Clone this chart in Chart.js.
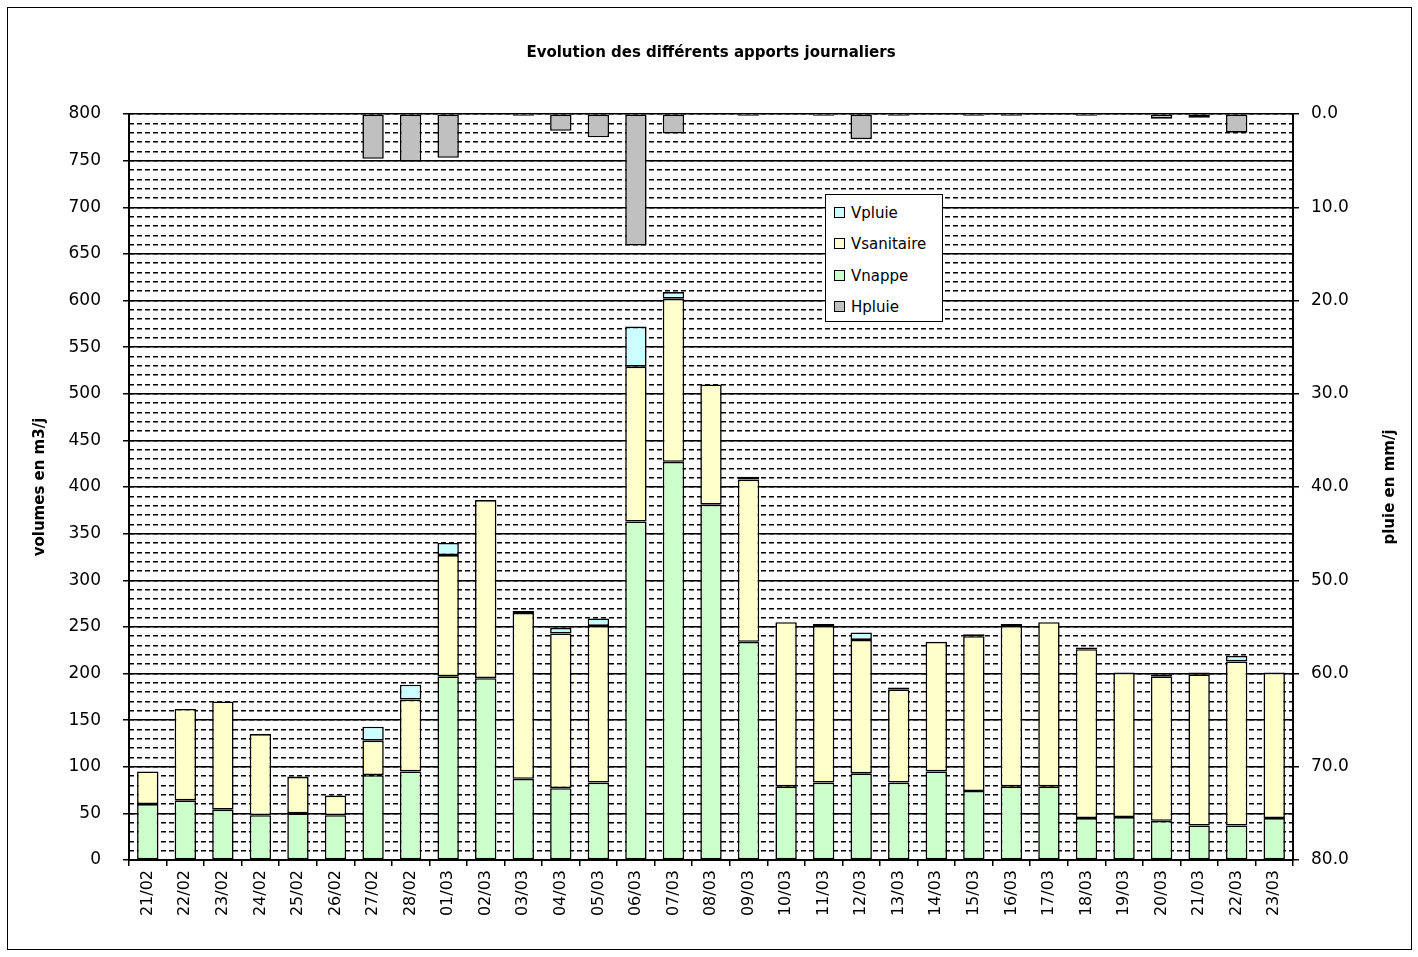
<!DOCTYPE html>
<html>
<head>
<meta charset="utf-8">
<script src="https://cdn.jsdelivr.net/npm/chart.js@4.4.1/dist/chart.umd.min.js"></script>
<style>
  body { margin: 0; background: #fff; }
  #wrap { position: relative; width: 1418px; height: 957px; }
  #frame { position: absolute; left: 7px; top: 7px; width: 1403px; height: 941px; border: 1px solid #000; pointer-events: none; }
  canvas { position: absolute; left: 0; top: 0; }
  #legend { position: absolute; left: 825px; top: 194px; width: 116px; height: 126px; border: 1px solid #000; background: #fff;
            font-family: 'DejaVu Sans', sans-serif; font-size: 15px; color: #000; }
  #legend .item { position: absolute; left: 8px; height: 18px; line-height: 18px; white-space: nowrap; }
  #legend .box { display: inline-block; width: 9px; height: 9px; border: 1px solid #000; margin-right: 6px; vertical-align: 0px; }
</style>
</head>
<body>
<div id="wrap">
  <canvas id="chart" width="1418" height="957"></canvas>
  <div id="frame"></div>
  <div id="legend"></div>
</div>
<script>
// categories
const dates = ["21/02","22/02","23/02","24/02","25/02","26/02","27/02","28/02",
  "01/03","02/03","03/03","04/03","05/03","06/03","07/03","08/03","09/03","10/03",
  "11/03","12/03","13/03","14/03","15/03","16/03","17/03","18/03","19/03","20/03",
  "21/03","22/03","23/03"];

// volumes m3/j
const vnappe = [60,64,54,48,50,48,91,95,197,195,87,77,83,363,427,381,234,79,83,93,83,95,74,79,79,45,46,42,37,37,45];
const vsanitaire = [35,98,116,87,39,21,37,77,130,191,178,166,168,166,175,129,174,176,168,143,100,139,166,172,176,181,155,155,162,176,156];
const vpluie = [0,0,0,0,0.5,0.5,15,16,13,0,2,6,8,43,7,0,3,0,2,8,2,0,2,2,0,2,0,2,2,6,0];

// pluie mm/j
const hpluie = [0,0,0,0,0,0,4.8,5.1,4.7,0,0.2,1.8,2.5,14.1,2.1,0,0.2,0,0.2,2.7,0.2,0,0.2,0.2,0,0.2,0,0.5,0.4,2.0,0];

const colors = { Vpluie: "#ccffff", Vsanitaire: "#ffffcc", Vnappe: "#ccffcc", Hpluie: "#c0c0c0" };
const legend_order = ["Vpluie","Vsanitaire","Vnappe","Hpluie"];

// legend in the plot
const legend_el = document.getElementById("legend");
legend_order.forEach((name, i) => {
  const d = document.createElement("div");
  d.className = "item";
  d.style.top = (9 + i * 31.3) + "px";
  d.innerHTML = '<span class="box" style="background:' + colors[name] + '"></span>' + name;
  legend_el.appendChild(d);
});

Chart.defaults.font.family = "'DejaVu Sans', sans-serif";
Chart.defaults.color = "#000";

const FONT = "'DejaVu Sans', sans-serif";

const textPlugin = {
  id: "texts",
  afterDraw(chart) {
    const ctx = chart.ctx;
    ctx.save();
    ctx.fillStyle = "#000";
    ctx.textAlign = "center";
    ctx.textBaseline = "middle";
    ctx.font = "bold 15px " + FONT;
    ctx.fillText("Evolution des différents apports journaliers", 711, 53);

    ctx.translate(40, 487);
    ctx.rotate(-Math.PI / 2);
    ctx.fillText("volumes en m3/j", 0, 0);
    ctx.restore();

    ctx.save();
    ctx.fillStyle = "#000";
    ctx.textAlign = "center";
    ctx.textBaseline = "middle";
    ctx.font = "bold 15px " + FONT;
    ctx.translate(1390, 487);
    ctx.rotate(-Math.PI / 2);
    ctx.fillText("pluie en mm/j", 0, 0);
    ctx.restore();
  }
};

function barSet(label, data, axis) {
  return {
    label: label,
    data: data,
    yAxisID: axis,
    backgroundColor: colors[label],
    borderColor: "#000",
    borderWidth: 1.6,
    borderSkipped: false,
    barPercentage: 0.57,
    categoryPercentage: 1.0
  };
}

new Chart(document.getElementById("chart"), {
  type: "bar",
  data: {
    labels: dates,
    datasets: [
      barSet("Vnappe", vnappe, "y"),
      barSet("Vsanitaire", vsanitaire, "y"),
      barSet("Vpluie", vpluie, "y"),
      barSet("Hpluie", hpluie, "y2")
    ]
  },
  options: {
    responsive: false,
    animation: false,
    layout: { padding: { top: 114, left: 0, right: 0, bottom: 0 } },
    plugins: { legend: { display: false }, tooltip: { enabled: false } },
    scales: {
      x: {
        stacked: true,
        grid: { display: true, drawOnChartArea: false, offset: true, color: "#000", tickLength: 6, lineWidth: 1.5 },
        border: { display: true, color: "#000", width: 2 },
        ticks: { autoSkip: false, maxRotation: 90, minRotation: 90, padding: 4, font: { size: 16 } },
        afterFit: (s) => { s.height = 97; }
      },
      ydash: {
        position: "left",
        min: 0, max: 800,
        stacked: true,
        ticks: { display: false, stepSize: 10 },
        grid: { color: "#000", lineWidth: 1.4, drawTicks: false },
        border: { display: false, dash: [5, 3] },
        afterFit: (s) => { s.width = 0; }
      },
      y: {
        position: "left",
        min: 0, max: 800,
        stacked: true,
        ticks: { stepSize: 50, padding: 22, font: { size: 17 } },
        grid: { color: "#000", lineWidth: 1.5, tickLength: 6 },
        border: { display: true, color: "#000", width: 2 },
        afterFit: (s) => { s.width = 129; }
      },
      y2: {
        position: "right",
        min: 0, max: 80,
        reverse: true,
        ticks: { stepSize: 10, padding: 12, font: { size: 17 }, callback: (v) => Number(v).toFixed(1) },
        grid: { drawOnChartArea: false, color: "#000", tickLength: 6, lineWidth: 1.5 },
        border: { display: true, color: "#000", width: 2 },
        afterFit: (s) => { s.width = 125; }
      }
    }
  },
  plugins: [textPlugin]
});
</script>
</body>
</html>
